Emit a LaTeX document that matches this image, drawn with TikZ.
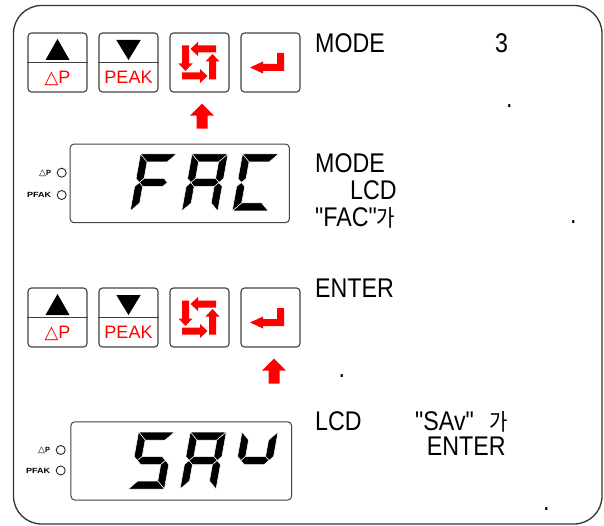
\documentclass[tikz,border=0pt]{standalone}
\usepackage{fontspec}
\usepackage{graphicx}
\setmainfont{Liberation Sans}
\newfontfamily\txtfont[FakeStretch=0.86]{Liberation Sans}
\newfontfamily\krfont{Noto Sans CJK KR}
\newfontfamily\symfont{DejaVu Sans}
\newcommand\segA{\filldraw[seg] (0,0)--(36,0)--(28,8)--(8,8)--cycle;}
\newcommand\segB{\filldraw[seg] (36,0)--(36,24.5)--(32,28.5)--(28,24.5)--(28,8)--cycle;}
\newcommand\segC{\filldraw[seg] (32,28.5)--(36,32.5)--(36,57)--(28,49)--(28,32.5)--cycle;}
\newcommand\segD{\filldraw[seg] (0,57)--(8,49)--(28,49)--(36,57)--cycle;}
\newcommand\segE{\filldraw[seg] (4,28.5)--(8,32.5)--(8,49)--(0,57)--(0,32.5)--cycle;}
\newcommand\segF{\filldraw[seg] (0,0)--(8,8)--(8,24.5)--(4,28.5)--(0,24.5)--cycle;}
\newcommand\segG{\filldraw[seg] (4,28.5)--(8,24.5)--(28,24.5)--(32,28.5)--(28,32.5)--(8,32.5)--cycle;}
\newcommand\sevseg[3]{\begin{scope}[shift={(#1,#2)}, xslant=0.18]\foreach \sg in {#3}{\csname seg\sg\endcsname}\end{scope}}
\newcommand\kr[1]{\scalebox{0.87}[1]{\krfont\fontsize{23}{26}\selectfont #1}}
\begin{document}
\begin{tikzpicture}[x=1pt,y=-1pt,
 frm/.style={draw=black!80, line width=1.3, rounded corners=28, minimum width=588.5, minimum height=518.5, inner sep=0},
 btn/.style={draw=black!75, line width=1.1, rounded corners=3.5, minimum width=59, minimum height=59, inner sep=0},
 divline/.style={draw=black!75, line width=1.1},
 lcd/.style={draw=black!75, line width=1, rounded corners=4, inner sep=0},
 led/.style={draw=black!85, line width=0.9, circle, minimum size=9, inner sep=0},
 keylbl/.style={anchor=base, inner sep=0, text=red, font=\fontsize{18}{20}\selectfont},
 ledlbl/.style={anchor=east, inner sep=0, font=\bfseries\fontsize{7.5}{8}\selectfont},
 desc/.style={anchor=base west, inner sep=0, font=\txtfont\fontsize{27}{30}\selectfont},
 seg/.style={fill=black, draw=white, line width=0.5},
 uparr/.pic={\fill[red] (0,0) -- (12,12) -- (5.5,12) -- (5.5,25) -- (-5.5,25) -- (-5.5,12) -- (-12,12) -- cycle;},
 rotarm/.style={fill=red},
 rotico/.pic={\foreach \ang in {0,90,180,270}{
   \fill[rotarm, rotate=\ang] (17,-17) -- (-1,-17) -- (-1,-20.5) -- (-8.5,-13.5) -- (-1,-6.5) -- (-1,-10) -- (17,-10) -- cycle;}},
 entico/.pic={\fill[red] (13.5,-9.5) -- (6.5,-9.5) -- (6.5,1.5) -- (-7.5,1.5) -- (-7.5,-1) -- (-20.5,5) -- (-7.5,11) -- (-7.5,8.5) -- (13.5,8.5) -- cycle;}
 ]
\useasboundingbox (0,0) rectangle (604,526);
\node[frm] (frame) at (307.75,264.75) {};

% row 1 keys
\node[btn] (up1) at (57.5,62.5) {};
\node[btn] (pk1) at (128.5,62.5) {};
\node[btn] (md1) at (199.5,62.5) {};
\node[btn] (en1) at (270.5,62.5) {};
\draw[divline] (up1.west) -- (up1.east);
\draw[divline] (pk1.west) -- (pk1.east);
\fill[shift={(up1.center)}] (-12,-2.5) -- (12,-2.5) -- (0,-23.5) -- cycle;
\fill[shift={(pk1.center)}] (-12.2,-22.5) -- (12.2,-22.5) -- (0,-2.5) -- cycle;
\node[keylbl] (dp1) at ([shift={(0,21)}]up1.center) {{\symfont △}P};
\node[keylbl] (pkl1) at ([shift={(0,21)}]pk1.center) {PEAK};
\pic at ([shift={(-0.5,0)}]md1.center) {rotico};
\pic at (en1.center) {entico};
\pic at ([shift={(2.5,11)}]md1.south) {uparr};

% display 1
\node[lcd, minimum width=219.3, minimum height=78.7] (lcd1) at (179.7,183.4) {};
\sevseg{140.5}{154}{A,F,G,E}
\sevseg{192}{154}{A,B,C,E,F,G}
\sevseg{242.5}{154}{A,F,E,D}
\node[led] (la1) at (61.7,172.7) {};
\node[led] (lb1) at (61.7,195) {};
\node[ledlbl] (lla1) at ([xshift=-5.5]la1.west) {{\symfont\mdseries\fontsize{9}{9}\selectfont △}P};
\node[ledlbl] (llb1) at ([xshift=-5.5]lb1.west) {\scalebox{1.2}[1]{PFAK}};

% row 2 keys
\node[btn] (up2) at (57.5,317.5) {};
\node[btn] (pk2) at (128.5,317.5) {};
\node[btn] (md2) at (199.5,317.5) {};
\node[btn] (en2) at (270.5,317.5) {};
\draw[divline] (up2.west) -- (up2.east);
\draw[divline] (pk2.west) -- (pk2.east);
\fill[shift={(up2.center)}] (-12,-2.5) -- (12,-2.5) -- (0,-23.5) -- cycle;
\fill[shift={(pk2.center)}] (-12.2,-22.5) -- (12.2,-22.5) -- (0,-2.5) -- cycle;
\node[keylbl] (dp2) at ([shift={(0,21)}]up2.center) {{\symfont △}P};
\node[keylbl] (pkl2) at ([shift={(0,21)}]pk2.center) {PEAK};
\pic at ([shift={(-0.5,0)}]md2.center) {rotico};
\pic at (en2.center) {entico};
\pic at ([shift={(3.5,11)}]en2.south) {uparr};

% display 2
\node[lcd, minimum width=220.7, minimum height=78.3] (lcd2) at (181.3,460.9) {};
\sevseg{138.6}{432}{A,F,G,C,D}
\sevseg{190.3}{432}{A,B,C,E,F,G}
\sevseg{242}{432}{F,B,G}
\node[led] (la2) at (60.7,450) {};
\node[led] (lb2) at (60.7,470.5) {};
\node[ledlbl] (lla2) at ([xshift=-5.5]la2.west) {{\symfont\mdseries\fontsize{9}{9}\selectfont △}P};
\node[ledlbl] (llb2) at ([xshift=-5.5]lb2.west) {\scalebox{1.2}[1]{PFAK}};

% texts
\node[desc] (t1a) at (315,53) {MODE};
\node[desc] (t1b) at (495,53) {3};
\node[desc] (t1c) at (506,108) {.};
\node[desc] (t2a) at (315,173) {MODE};
\node[desc] (t2b) at (350,200) {LCD};
\node[desc] (t2c) at (315,226.7) {"FAC"\kr{가}};
\node[desc] (t2d) at (570,224) {.};
\node[desc] (t3a) at (315,297) {ENTER};
\node[desc] (t3b) at (338.5,377) {.};
\node[desc] (t4a) at (315,430) {LCD};
\node[desc] (t4b) at (415,430) {"SAv"\hspace{16pt}\kr{가}};
\node[desc] (t4c) at (426.7,455) {ENTER};
\node[desc] (t4d) at (543,510) {.};
\end{tikzpicture}
\end{document}
